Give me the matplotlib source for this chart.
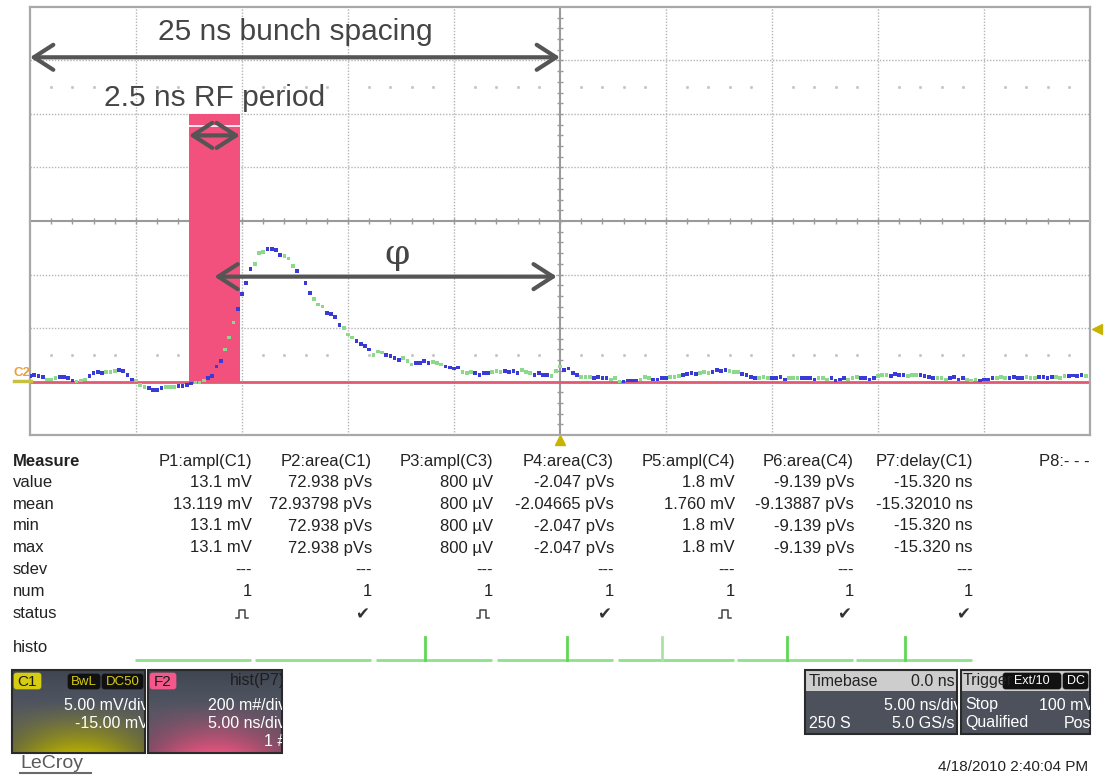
import numpy as np
import matplotlib
matplotlib.use('Agg')
import matplotlib.pyplot as plt
from matplotlib.patches import Rectangle, FancyBboxPatch

plt.rcParams['font.family'] = ['Liberation Sans', 'DejaVu Sans']

W, H = 1104, 778

# ---- waveform (C1), 250 samples, 0.2 ns apart, mV ----
t0, dt = -25.0, 0.2
trace_mv = [
    0.5, 0.6, 0.5, 0.4, 0.2, 0.2, 0.3, 0.4, 0.4, 0.3,
    0.1, 0.0, 0.1, 0.2, 0.5, 0.8, 0.9, 0.8, 0.9, 0.9,
    1.0, 1.1, 1.0, 0.6, 0.2, 0.1, -0.3, -0.5, -0.6, -0.8,
    -0.8, -0.6, -0.5, -0.5, -0.5, -0.4, -0.4, -0.3, -0.2, -0.1,
    -0.1, 0.1, 0.3, 0.5, 1.4, 1.9, 3.0, 4.1, 5.5, 6.8,
    8.2, 9.2, 10.5, 11.0, 12.0, 12.1, 12.4, 12.4, 12.3, 11.8,
    11.7, 11.5, 10.8, 10.3, 9.8, 9.2, 8.3, 7.7, 7.2, 7.0,
    6.4, 6.3, 6.0, 5.3, 5.0, 4.4, 4.1, 3.8, 3.5, 3.3,
    3.0, 2.5, 2.8, 2.7, 2.5, 2.4, 2.2, 2.0, 2.2, 1.9,
    1.6, 1.7, 1.7, 1.9, 1.7, 1.8, 1.7, 1.6, 1.4, 1.3,
    1.2, 1.3, 0.9, 0.8, 0.9, 0.8, 0.6, 0.8, 0.8, 0.9,
    1.0, 0.9, 1.0, 0.9, 1.0, 0.8, 1.1, 0.9, 0.8, 0.6,
    0.8, 0.6, 0.6, 0.5, 1.0, 1.4, 1.1, 1.2, 0.8, 0.6,
    0.4, 0.4, 0.4, 0.35, 0.4, 0.3, 0.3, 0.2, 0.35, 0.0,
    0.0, 0.1, 0.1, 0.1, 0.2, 0.4, 0.3, 0.2, 0.2, 0.3,
    0.3, 0.4, 0.4, 0.5, 0.6, 0.7, 0.8, 0.7, 0.8, 0.9,
    0.8, 0.9, 1.1, 1.0, 1.1, 1.0, 0.9, 0.9, 0.7, 0.6,
    0.4, 0.3, 0.3, 0.4, 0.35, 0.3, 0.3, 0.4, 0.2, 0.3,
    0.35, 0.3, 0.3, 0.35, 0.3, 0.2, 0.3, 0.3, 0.2, 0.3,
    0.1, 0.2, 0.3, 0.2, 0.3, 0.4, 0.3, 0.3, 0.2, 0.3,
    0.5, 0.6, 0.6, 0.5, 0.7, 0.6, 0.6, 0.5, 0.6, 0.6,
    0.6, 0.5, 0.4, 0.3, 0.3, 0.3, 0.2, 0.3, 0.4, 0.2,
    0.3, 0.2, 0.1, 0.2, 0.1, 0.2, 0.2, 0.3, 0.3, 0.4,
    0.3, 0.3, 0.4, 0.3, 0.35, 0.4, 0.3, 0.35, 0.4, 0.4,
    0.35, 0.45, 0.4, 0.3, 0.5, 0.5, 0.55, 0.5, 0.6, 0.5,
]
trace_t = t0 + dt * np.arange(len(trace_mv))

# RF bucket (pink bar) and arrows, ns / mV
rf_left, rf_width, rf_top = -17.5, 2.4, 25.0
bunch_arrow = (-25.0, 0.0, 30.3)
rf_arrow = (-17.5, -15.1, 23.0)
phi_arrow = (-16.3, -0.15, 9.8)

# ---- measurement table ----
headers = ['P1:ampl(C1)', 'P2:area(C1)', 'P3:ampl(C3)', 'P4:area(C3)',
           'P5:ampl(C4)', 'P6:area(C4)', 'P7:delay(C1)', 'P8:- - -']
row_value = ['13.1 mV', '72.938 pVs', '800 µV', '-2.047 pVs', '1.8 mV',
             '-9.139 pVs', '-15.320 ns']
row_mean = ['13.119 mV', '72.93798 pVs', '800 µV', '-2.04665 pVs', '1.760 mV',
            '-9.13887 pVs', '-15.32010 ns']
row_min = ['13.1 mV', '72.938 pVs', '800 µV', '-2.047 pVs', '1.8 mV',
           '-9.139 pVs', '-15.320 ns']
row_max = ['13.1 mV', '72.938 pVs', '800 µV', '-2.047 pVs', '1.8 mV',
           '-9.139 pVs', '-15.320 ns']
row_sdev = ['---'] * 7
row_num = ['1'] * 7
row_status = ['pulse', 'ok', 'pulse', 'ok', 'pulse', 'ok', 'ok']
histo_spike = [None, None, 0.42, 0.60, 0.38, 0.43, 0.42]
row_names = ['value', 'mean', 'min', 'max', 'sdev', 'num', 'status']

fig = plt.figure(figsize=(W / 100, H / 100), dpi=100)
fig.patch.set_facecolor('white')


def px_rect(x0, y0, x1, y1):
    return [x0 / W, 1 - y1 / H, (x1 - x0) / W, (y1 - y0) / H]


# ---- scope grid ----
ax = fig.add_axes(px_rect(30, 7, 1090, 435))
ax.set_xlim(-25, 25)
ax.set_ylim(-5, 35)
ax.set_xticks([])
ax.set_yticks([])
for s in ax.spines.values():
    s.set_color('#a8a8a8')
    s.set_linewidth(1.6)

for gx in range(-20, 25, 5):
    if gx != 0:
        ax.axvline(gx, color='#b4b4b4', lw=1, ls=(0, (1, 1.2)), zorder=1)
for gy in range(0, 35, 5):
    if gy != 15:
        ax.axhline(gy, color='#b4b4b4', lw=1, ls=(0, (1, 1.2)), zorder=1)
ax.axhline(15, color='#9a9a9a', lw=1.5, zorder=1)
ax.axvline(0, color='#9a9a9a', lw=1.5, zorder=1)
ax.vlines(np.arange(-24, 25), 15 - 0.3, 15 + 0.3, color='#9a9a9a', lw=1, zorder=1)
ax.hlines(np.arange(-4, 35), -0.15, 0.15, color='#9a9a9a', lw=1, zorder=1)
dot_x = [x for x in range(-24, 25) if x % 5]
ax.plot(dot_x, [27.5] * len(dot_x), 's', ms=1.0, color='#c4c4c4', zorder=1)
ax.plot(dot_x, [2.5] * len(dot_x), 's', ms=1.0, color='#c4c4c4', zorder=1)

ax.axhline(0, color='#e25a72', lw=2, zorder=2)
ax.bar(rf_left, rf_top, width=rf_width, bottom=0, align='edge',
       color='#f2507d', zorder=3)
ax.hlines(23.9, rf_left, rf_left + rf_width, color='white', lw=1.2, zorder=4)

cols = ['#3a3ad8' if (i % 7) < 4 else '#8cd98c' for i in range(len(trace_mv))]
ax.scatter(trace_t, trace_mv, s=7, marker='s', c=cols, linewidths=0, zorder=5)

aprops = dict(arrowstyle='<->,head_length=0.7,head_width=0.45', lw=3,
              color='#555555', mutation_scale=20, shrinkA=0, shrinkB=0)
for a0, a1, ay in [bunch_arrow, rf_arrow, phi_arrow]:
    ax.annotate('', xy=(a1, ay), xytext=(a0, ay), arrowprops=aprops,
                annotation_clip=False, zorder=6)
ax.text(-12.5, 32.7, '25 ns bunch spacing', ha='center', va='center',
        fontsize=21.5, color='#454545', zorder=6)
ax.text(-16.3, 26.5, '2.5 ns RF period', ha='center', va='center',
        fontsize=21.5, color='#454545', zorder=6)
ax.text(-7.7, 11.9, 'φ', ha='center', va='center', fontsize=26,
        color='#454545', zorder=6, family=['DejaVu Serif'])

# ---- overlay in pixel coordinates ----
ov = fig.add_axes([0, 0, 1, 1])
ov.set_xlim(0, W)
ov.set_ylim(H, 0)
ov.axis('off')

# trace / trigger markers
ov.text(13, 373, 'C2', fontsize=9.5, color='#e8a040', ha='left', va='center',
        fontweight='bold')
ov.plot([14, 31], [381, 381], color='#c8c040', lw=2.5)
ov.plot([560], [440], marker='^', ms=7, color='#c8b400')
ov.plot([1097], [329], marker='<', ms=7, color='#c8b400')

col_right = [252, 372, 493, 614, 735, 854, 973, 1090]
row_y = [482, 504, 526, 548, 570, 592, 614]
tfs = 12
ov.text(13, 461, 'Measure', fontsize=tfs, fontweight='bold', color='#222',
        ha='left', va='center')
for xr, hd in zip(col_right, headers):
    ov.text(xr, 461, hd, fontsize=tfs, color='#222', ha='right', va='center')
for yy, name in zip(row_y, row_names):
    ov.text(13, yy, name, fontsize=tfs, color='#222', ha='left', va='center')

rows = [row_value, row_mean, row_min, row_max, row_sdev, row_num]
for yy, row in zip(row_y[:6], rows):
    for xr, val in zip(col_right, row):
        ov.text(xr, yy, val, fontsize=tfs, color='#222', ha='right', va='center')
for xr, st in zip(col_right, row_status):
    if st == 'ok':
        ov.text(xr - 3, 614, '✔', fontsize=12, color='#333', ha='right',
                va='center', family=['DejaVu Sans'])
    else:
        px = xr - 10
        ov.plot([px - 6, px - 3, px - 3, px + 3, px + 3, px + 6],
                [618, 618, 610, 610, 618, 618], color='#444', lw=1.1)

ov.text(13, 647, 'histo', fontsize=tfs, color='#222', ha='left', va='center')
for xr, sp in zip(col_right[:7], histo_spike):
    x0, x1 = xr - 117, xr - 1
    ov.plot([x0, x1], [660, 660], color='#8fe08a', lw=2, solid_capstyle='butt')
    if sp is not None:
        xs = x0 + sp * (x1 - x0)
        ov.plot([xs, xs], [660, 637], color='#5fd655' if sp != 0.38 else '#a6e6a0',
                lw=2)

ov.text(20, 764, 'LeCroy', fontsize=14, color='#5a5a5a', ha='left', va='center')
ov.plot([20, 91], [773, 773], color='#6a6a6a', lw=1.5)
ov.text(1088, 767, '4/18/2010 2:40:04 PM', fontsize=11, color='#222',
        ha='right', va='center')


# ---- channel / timebase boxes ----
def box_axes(x0, y0, x1, y1):
    b = fig.add_axes(px_rect(x0, y0, x1, y1))
    b.set_xlim(0, x1 - x0)
    b.set_ylim(y1 - y0, 0)
    b.axis('off')
    return b


def glow(w, h, rgb):
    yy, xx = np.mgrid[0:h, 0:w]
    ty = yy / h
    tx = (xx / w - 0.5) / 0.55
    wgt = np.clip((ty - 0.35) / 0.65, 0, 1) ** 1.3 * np.exp(-tx ** 2)
    base = np.array([0.25, 0.27, 0.32]) + 0.06 * np.sin(np.pi * ty)[..., None]
    img = base * (1 - wgt[..., None]) + np.array(rgb) * wgt[..., None]
    return np.clip(img, 0, 1)


def frame(b, w, h):
    b.add_patch(Rectangle((0, 0), w, h, fill=False, ec='#2a2a2a', lw=1.5,
                          clip_on=False))


def pill(b, x0, y0, x1, y1, fc, txt, tc, fs=9.5):
    b.add_patch(FancyBboxPatch((x0, y0), x1 - x0, y1 - y0,
                               boxstyle='round,pad=0,rounding_size=2.5',
                               fc=fc, ec=fc, lw=0.5))
    b.text((x0 + x1) / 2, (y0 + y1) / 2 + 0.5, txt, fontsize=fs, color=tc,
           ha='center', va='center', clip_on=True)


bfs = 11.5
# C1
w, h = 133, 83
b = box_axes(12, 670, 12 + w, 670 + h)
b.imshow(glow(w, h, (0.72, 0.69, 0.0)), extent=(0, w, h, 0), aspect='auto')
pill(b, 2, 3, 29, 19, '#d6cc10', 'C1', '#1a1a1a', 11)
pill(b, 56, 4, 88, 19, '#111111', 'BwL', '#d6cc10')
pill(b, 90, 4, 131, 19, '#111111', 'DC50', '#d6cc10')
b.text(w + 3, 35, '5.00 mV/div', fontsize=bfs, color='white', ha='right',
       va='center', clip_on=True)
b.text(w + 4, 53, '-15.00 mV', fontsize=bfs, color='white', ha='right',
       va='center', clip_on=True)
frame(b, w, h)

# F2
b = box_axes(148, 670, 148 + w + 1, 670 + h)
b.imshow(glow(w + 1, h, (0.92, 0.33, 0.50)), extent=(0, w + 1, h, 0),
         aspect='auto')
pill(b, 2, 3, 28, 19, '#f2588a', 'F2', '#1a1a1a', 11)
b.text(w + 4, 11, 'hist(P7)', fontsize=bfs, color='#1e1e1e', ha='right',
       va='center', clip_on=True)
b.text(w + 5, 35, '200 m#/div', fontsize=bfs, color='white', ha='right',
       va='center', clip_on=True)
b.text(w + 5, 53, '5.00 ns/div', fontsize=bfs, color='white', ha='right',
       va='center', clip_on=True)
b.text(w + 5, 71, '1 #', fontsize=bfs, color='white', ha='right',
       va='center', clip_on=True)
frame(b, w + 1, h)

# Timebase
w, h = 152, 64
b = box_axes(805, 670, 805 + w, 670 + h)
b.add_patch(Rectangle((0, 0), w, h, fc='#4d515b', ec='none'))
b.add_patch(Rectangle((0, 0), w, 21, fc='#cdcdcd', ec='none'))
b.text(4, 11, 'Timebase', fontsize=bfs, color='#222', ha='left', va='center')
b.text(w - 2, 11, '0.0 ns', fontsize=bfs, color='#222', ha='right', va='center')
b.text(w + 4, 35, '5.00 ns/div', fontsize=bfs, color='white', ha='right',
       va='center', clip_on=True)
b.text(4, 53, '250 S', fontsize=bfs, color='white', ha='left', va='center')
b.text(w - 2, 53, '5.0 GS/s', fontsize=bfs, color='white', ha='right',
       va='center', clip_on=True)
frame(b, w, h)

# Trigger
w, h = 129, 64
b = box_axes(961, 670, 961 + w, 670 + h)
b.add_patch(Rectangle((0, 0), w, h, fc='#4d515b', ec='none'))
b.add_patch(Rectangle((0, 0), w, 21, fc='#cdcdcd', ec='none'))
b.text(2, 11, 'Trigger', fontsize=bfs, color='#222', ha='left', va='center')
pill(b, 42, 3, 100, 19, '#111111', 'Ext/10', 'white', 9)
pill(b, 102, 3, 127, 19, '#111111', 'DC', 'white', 9)
b.text(4, 35, 'Stop', fontsize=bfs, color='white', ha='left', va='center')
b.text(w + 4, 35, '100 mV', fontsize=bfs, color='white', ha='right',
       va='center', clip_on=True)
b.text(4, 53, 'Qualified', fontsize=bfs, color='white', ha='left', va='center')
b.text(w + 1, 53, 'Pos', fontsize=bfs, color='white', ha='right',
       va='center', clip_on=True)
frame(b, w, h)

fig.savefig('out.png', dpi=100)
